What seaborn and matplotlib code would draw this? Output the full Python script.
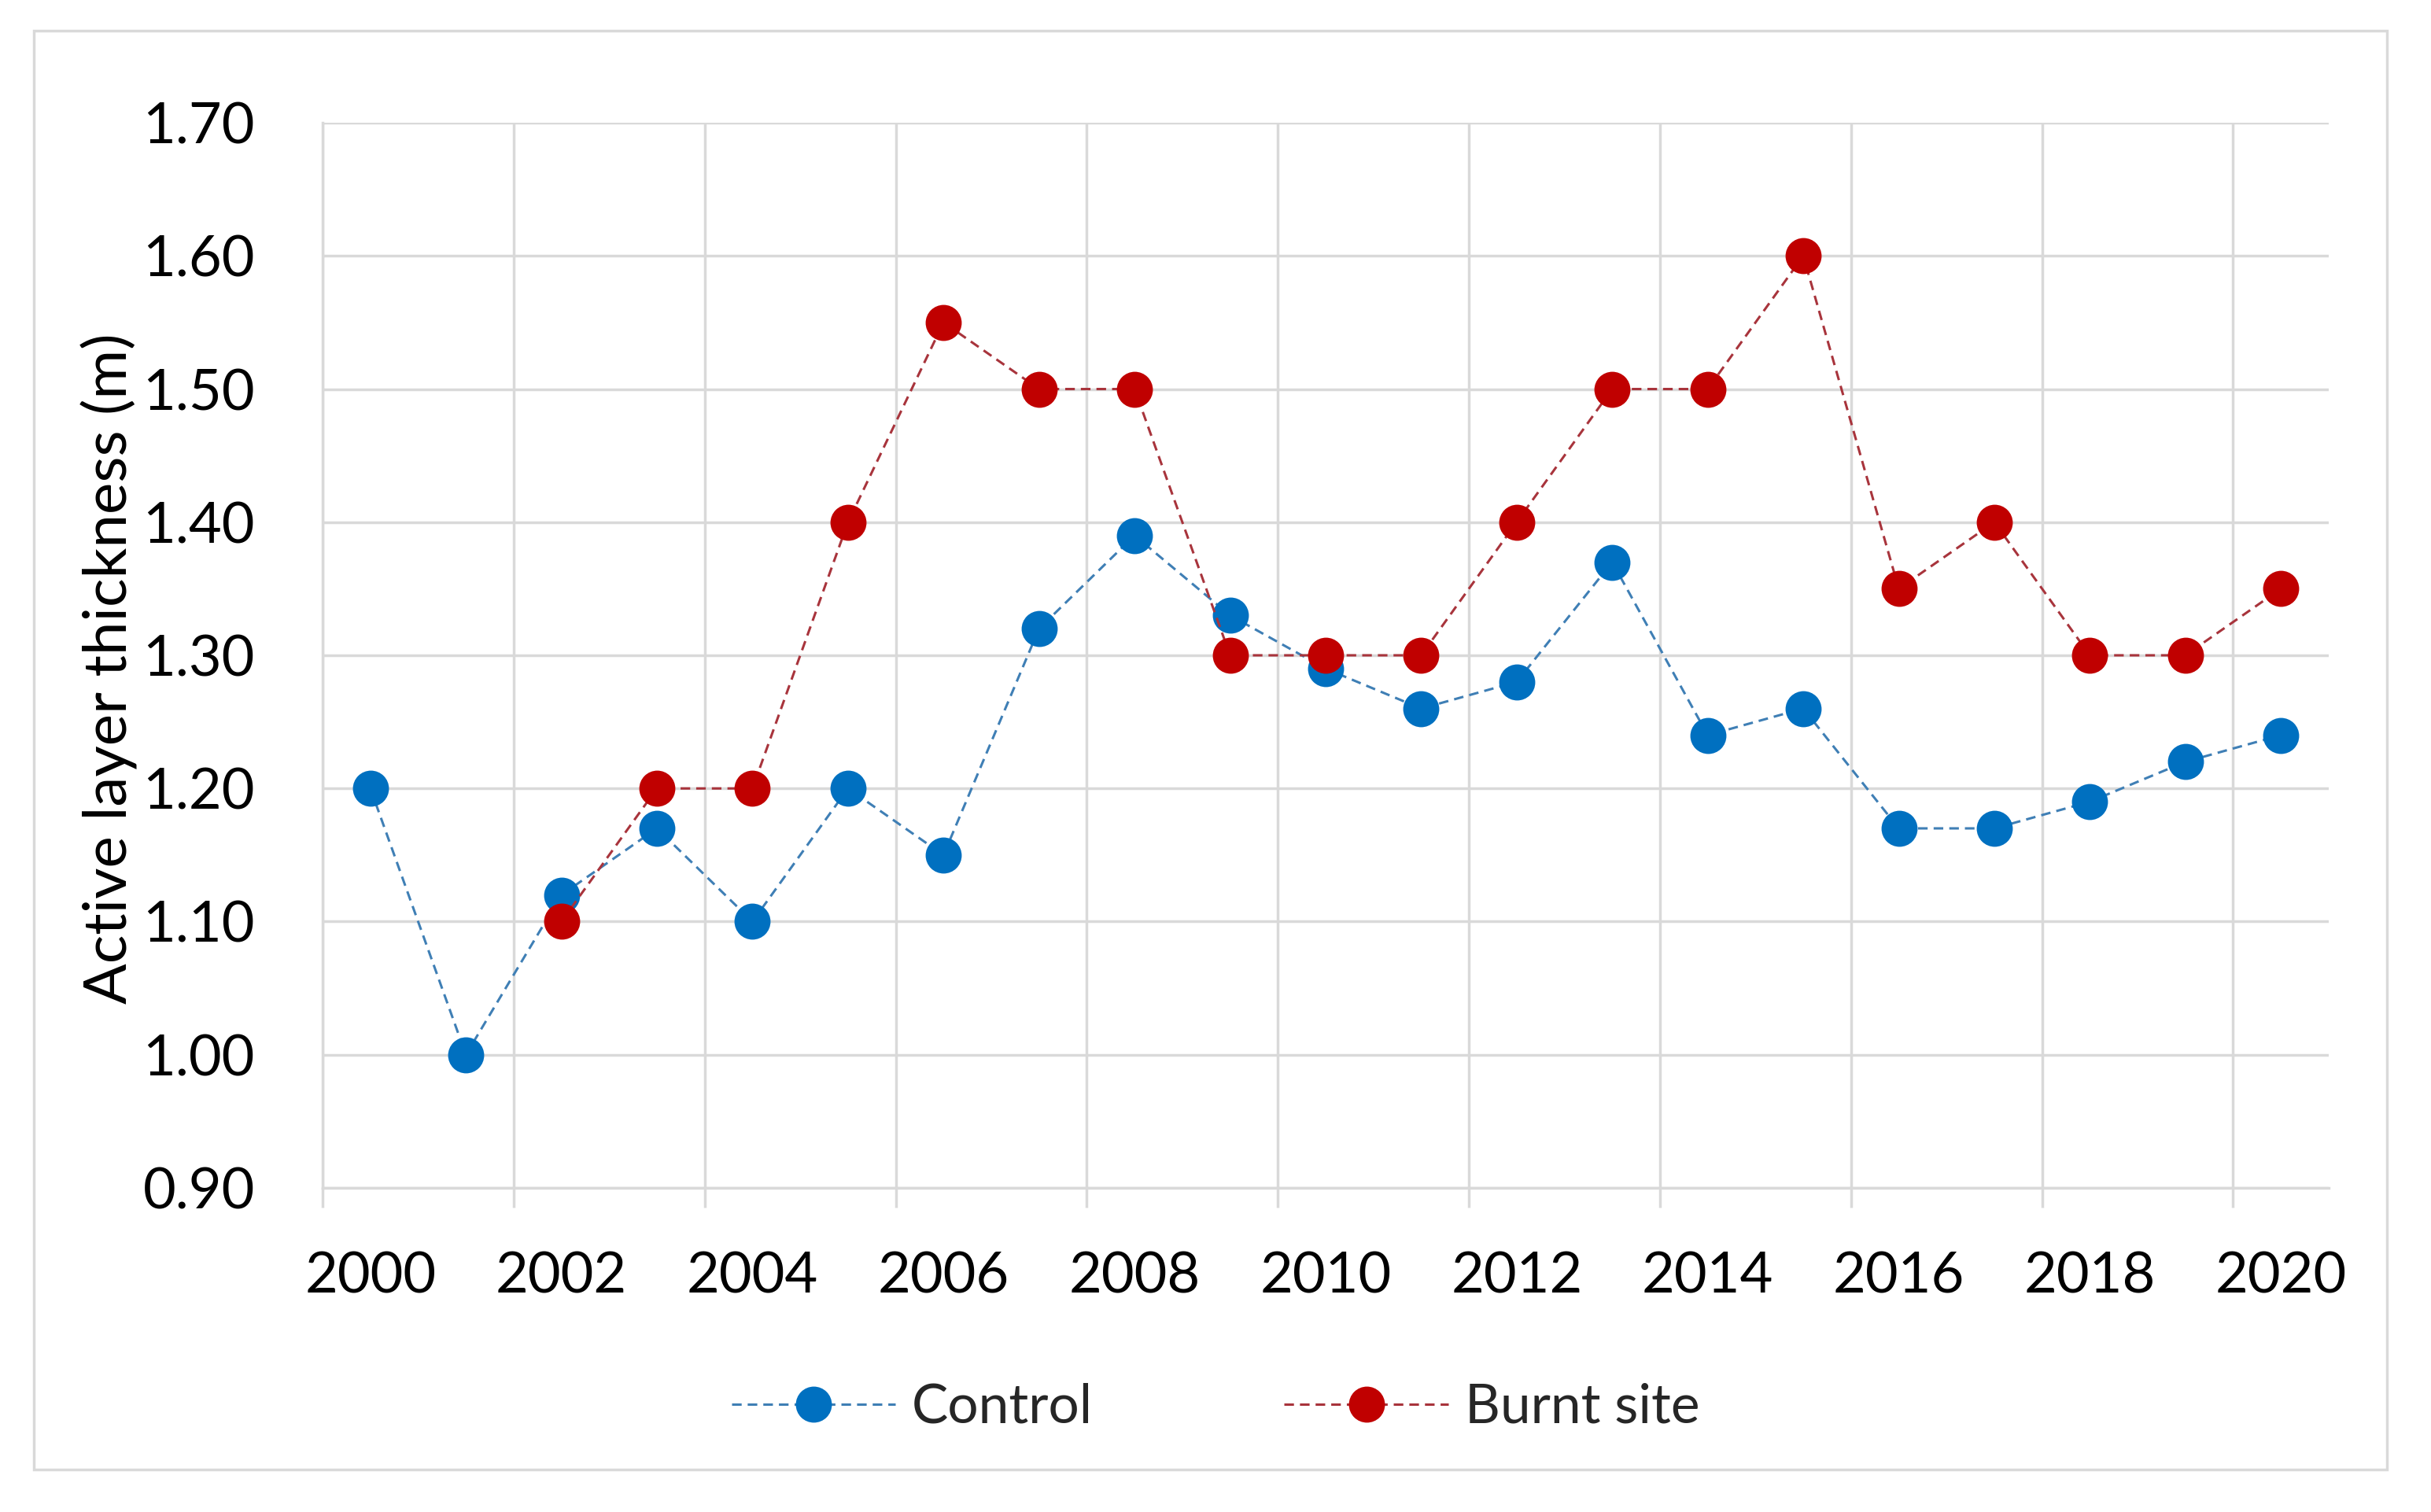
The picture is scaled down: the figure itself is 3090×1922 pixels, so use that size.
import seaborn as sns
import matplotlib.pyplot as plt
from matplotlib.patches import Rectangle

# active layer thickness (m), measured once per year (plotted mid-year)
control_years = [2000, 2001, 2002, 2003, 2004, 2005, 2006, 2007, 2008, 2009, 2010,
                 2011, 2012, 2013, 2014, 2015, 2016, 2017, 2018, 2019, 2020]
control_alt = [1.20, 1.00, 1.12, 1.17, 1.10, 1.20, 1.15, 1.32, 1.39, 1.33, 1.29,
               1.26, 1.28, 1.37, 1.24, 1.26, 1.17, 1.17, 1.19, 1.22, 1.24]

burnt_years = [2002, 2003, 2004, 2005, 2006, 2007, 2008, 2009, 2010, 2011,
               2012, 2013, 2014, 2015, 2016, 2017, 2018, 2019, 2020]
burnt_alt = [1.10, 1.20, 1.20, 1.40, 1.55, 1.50, 1.50, 1.30, 1.30, 1.30,
             1.40, 1.50, 1.50, 1.60, 1.35, 1.40, 1.30, 1.30, 1.35]

x_ticks = list(range(2000, 2021, 2))
y_ticks = [0.90, 1.00, 1.10, 1.20, 1.30, 1.40, 1.50, 1.60, 1.70]

sns.set_theme(style="white")
plt.rcParams['font.family'] = ['Lato', 'DejaVu Sans']

GRID = '#D9D9D9'

fig = plt.figure(figsize=(30.9, 19.22), dpi=100)
ax = fig.add_axes([0.1327, 0.2144, 0.8252, 0.7044])

series = [
    (control_years, control_alt, "Control", '#3F7FB5', '#0070C0'),
    (burnt_years, burnt_alt, "Burnt site", '#A8343C', '#C00000'),
]
for years, vals, label, line_col, mark_col in series:
    before = len(ax.lines)
    sns.lineplot(x=[y + 0.5 for y in years], y=vals, ax=ax, label=label,
                 color=line_col, linewidth=2.2, linestyle='--',
                 marker='o', markersize=33, markerfacecolor=mark_col,
                 markeredgecolor=mark_col, markeredgewidth=0)
    for ln in ax.lines[before:]:
        ln.set_dashes((4, 2.5))

ax.set_xlim(2000, 2021)
ax.set_ylim(0.90, 1.70)

# year boundaries carry the grid and tick marks, labels sit mid-year
ax.set_xticks(x_ticks)
ax.set_xticklabels([])
ax.set_xticks([x + 0.5 for x in x_ticks], minor=True)
ax.set_xticklabels([str(x) for x in x_ticks], minor=True)

ax.set_yticks(y_ticks)
ax.set_yticklabels([f"{v:.2f}" for v in y_ticks])
ax.grid(True, which='major', color=GRID, linewidth=2.5)
ax.set_axisbelow(True)

for side in ['top', 'right']:
    ax.spines[side].set_visible(False)
for side in ['left', 'bottom']:
    ax.spines[side].set_color(GRID)
    ax.spines[side].set_linewidth(2.5)

ax.tick_params(axis='x', which='major', bottom=True, length=18, width=2.5, color=GRID)
ax.tick_params(axis='x', which='minor', bottom=True, length=0,
               labelsize=52, pad=58, labelcolor='black')
ax.tick_params(axis='y', left=False, labelsize=52, pad=56, labelcolor='black')

ax.set_xlabel("")
ax.set_ylabel("Active layer thickness (m)", fontsize=55, color='black')
ax.yaxis.set_label_coords(-0.092, 0.488)

handles, labels = ax.get_legend_handles_labels()
ax.legend(handles, labels, loc='center', bbox_to_anchor=(0.5, 0.069),
          bbox_transform=fig.transFigure, ncol=2, frameon=False,
          fontsize=50, handlelength=3.0, handletextpad=0.3, columnspacing=3.5)

fig.patches.append(Rectangle((43 / 3090, 1 - 1868 / 1922), (3034 - 43) / 3090,
                             (1868 - 39) / 1922, transform=fig.transFigure,
                             fill=False, edgecolor=GRID, linewidth=2.5))

fig.savefig("out.png", dpi=100, facecolor='white')
